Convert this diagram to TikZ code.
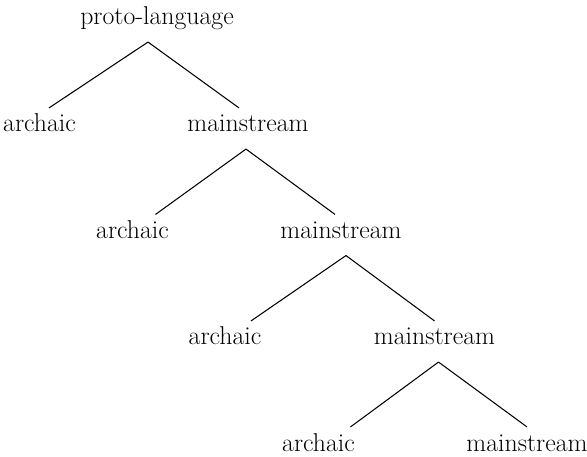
\documentclass[tikz,border=0pt]{standalone}
\begin{document}
\begin{tikzpicture}[
    lang/.style={anchor=base, font=\fontsize{22}{26}\selectfont,
      text height=0.49cm, text depth=0.28cm, inner xsep=0pt, inner ysep=0.225cm}]
  \useasboundingbox (0,0) rectangle (17.61,13.68);
  \node[lang] (proto) at (4.71,12.93) {proto-language};
  \node[lang] (a1) at (1.185,9.72) {archaic};
  \node[lang] (m1) at (7.44,9.72) {mainstream};
  \node[lang] (a2) at (3.975,6.525) {archaic};
  \node[lang] (m2) at (10.23,6.525) {mainstream};
  \node[lang] (a3) at (6.75,3.33) {archaic};
  \node[lang] (m3) at (13.035,3.33) {mainstream};
  \node[lang] (a4) at (9.555,0.15) {archaic};
  \node[lang] (m4) at (15.81,0.15) {mainstream};
  \begin{scope}[-, line width=0.9pt]
    \draw ([xshift=-0.27cm]proto.south) to ([xshift=0.285cm]a1.north);
    \draw ([xshift=-0.27cm]proto.south) to ([xshift=-0.27cm]m1.north);
    \draw ([xshift=-0.06cm]m1.south) to ([xshift=0.69cm]a2.north);
    \draw ([xshift=-0.06cm]m1.south) to ([xshift=-0.18cm]m2.north);
    \draw ([xshift=0.15cm]m2.south) to ([xshift=0.78cm]a3.north);
    \draw ([xshift=0.15cm]m2.south) to (m3.north);
    \draw ([xshift=0.12cm]m3.south) to ([xshift=0.96cm]a4.north);
    \draw ([xshift=0.12cm]m3.south) to (m4.north);
  \end{scope}
\end{tikzpicture}
\end{document}
